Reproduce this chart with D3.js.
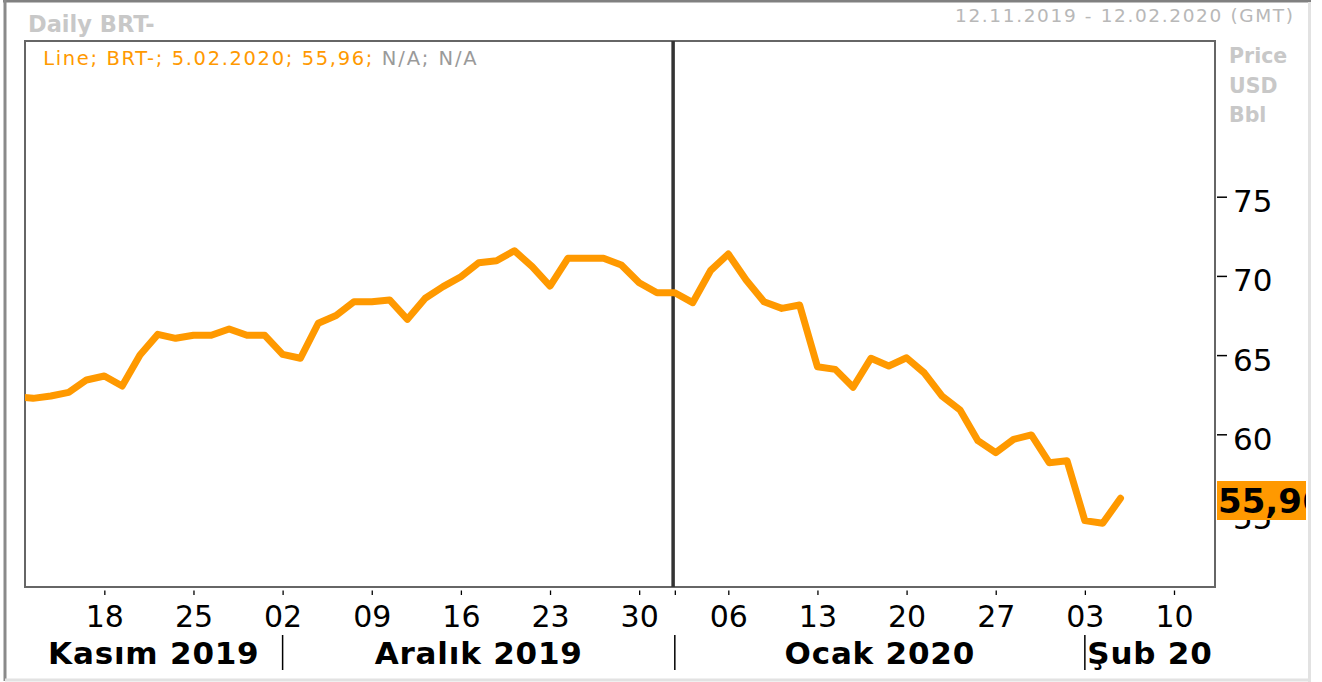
<!DOCTYPE html>
<html>
<head>
<meta charset="utf-8">
<script src="https://cdn.jsdelivr.net/npm/d3@7"></script>
<style>
  html, body { margin: 0; padding: 0; background: #fff; }
  svg { display: block; }
  text { font-family: "DejaVu Sans", Verdana, sans-serif; }
</style>
</head>
<body>
<svg id="chart" width="1322" height="682"></svg>
<script>
// ---------- DATA ----------
const dates = [
  "2019-11-11","2019-11-12","2019-11-13","2019-11-14","2019-11-15",
  "2019-11-18","2019-11-19","2019-11-20","2019-11-21","2019-11-22",
  "2019-11-25","2019-11-26","2019-11-27","2019-11-28","2019-11-29",
  "2019-12-02","2019-12-03","2019-12-04","2019-12-05","2019-12-06",
  "2019-12-09","2019-12-10","2019-12-11","2019-12-12","2019-12-13",
  "2019-12-16","2019-12-17","2019-12-18","2019-12-19","2019-12-20",
  "2019-12-23","2019-12-24","2019-12-25","2019-12-26","2019-12-27",
  "2019-12-30","2019-12-31","2020-01-01","2020-01-02","2020-01-03",
  "2020-01-06","2020-01-07","2020-01-08","2020-01-09","2020-01-10",
  "2020-01-13","2020-01-14","2020-01-15","2020-01-16","2020-01-17",
  "2020-01-20","2020-01-21","2020-01-22","2020-01-23","2020-01-24",
  "2020-01-27","2020-01-28","2020-01-29","2020-01-30","2020-01-31",
  "2020-02-03","2020-02-04","2020-02-05"
];
const prices = [
  62.40, 62.27, 62.42, 62.65, 63.43,
  63.68, 63.05, 65.01, 66.31, 66.06,
  66.25, 66.25, 66.65, 66.25, 66.25,
  65.05, 64.80, 67.01, 67.50, 68.37,
  68.37, 68.48, 67.26, 68.59, 69.32,
  69.95, 70.83, 70.96, 71.59, 70.58,
  69.36, 71.11, 71.11, 71.11, 70.69,
  69.57, 68.94, 68.94, 68.31, 70.33,
  71.38, 69.74, 68.37, 67.95, 68.16,
  64.27, 64.10, 62.97, 64.80, 64.31,
  64.83, 63.87, 62.40, 61.53, 59.60,
  58.84, 59.68, 59.96, 58.21, 58.33,
  54.55, 54.38, 55.96
];
const xTickDates  = ["2019-11-18","2019-11-25","2019-12-02","2019-12-09","2019-12-16","2019-12-23","2019-12-30","2020-01-06","2020-01-13","2020-01-20","2020-01-27","2020-02-03","2020-02-10"];
const xTickLabels = ["18","25","02","09","16","23","30","06","13","20","27","03","10"];
const monthStarts = ["2019-12-02","2020-01-01","2020-02-03"];
const monthLabels = ["Kasım 2019","Aralık 2019","Ocak 2020","Şub 20"];
const yTicks = [55, 60, 65, 70, 75];
const yDomain = [50.36, 84.83];
const title = "Daily BRT-";
const rangeText = "12.11.2019 - 12.02.2020 (GMT)";
const unitLines = ["Price", "USD", "Bbl"];
const lastLabel = "55,96";

// ---------- LAYOUT ----------
const W = 1322, H = 682;
const P = { left: 25, right: 1215, top: 41, bottom: 587 };
const orange = "#ff9900";

const svg = d3.select("#chart");
svg.append("rect").attr("width", W).attr("height", H).attr("fill", "#fff");

// trading-day calendar (weekdays) used as axis positions
const parse = d3.utcParse("%Y-%m-%d");
const fmt = d3.utcFormat("%Y-%m-%d");
const cal = d3.utcDays(parse("2019-11-11"), parse("2020-02-14"))
  .filter(d => d.getUTCDay() !== 0 && d.getUTCDay() !== 6).map(fmt);
const idx = s => cal.indexOf(s);

const x = d3.scaleLinear().domain([0.55, 67.3]).range([P.left, P.right]);
const y = d3.scaleLinear().domain(yDomain).range([P.bottom, P.top]);

// outer frame
svg.append("line").attr("x1", 3).attr("x2", 1311).attr("y1", 1.2).attr("y2", 1.2).attr("stroke", "#808080").attr("stroke-width", 2.5);
svg.append("line").attr("x1", 5).attr("x2", 5).attr("y1", 0).attr("y2", 681).attr("stroke", "#8a8a8a").attr("stroke-width", 3);
svg.append("line").attr("x1", 1309.5).attr("x2", 1309.5).attr("y1", 2).attr("y2", 682).attr("stroke", "#e2e2e2").attr("stroke-width", 3);
svg.append("line").attr("x1", 5).attr("x2", 1311).attr("y1", 680).attr("y2", 680).attr("stroke", "#e2e2e2").attr("stroke-width", 3);

// header texts
svg.append("text").attr("x", 28).attr("y", 31.5).attr("font-size", 22.5).attr("font-weight", "bold")
  .attr("fill", "#c8c8c8").text(title);
svg.append("text").attr("x", 955).attr("y", 22).attr("font-size", 18.5)
  .attr("textLength", 338).attr("lengthAdjust", "spacing")
  .attr("fill", "#b8b8b8").text(rangeText);
svg.selectAll("text.unit").data(unitLines).join("text").attr("class", "unit")
  .attr("x", 1229).attr("y", (d, i) => 63.3 + i * 29.3)
  .attr("font-size", 20.5).attr("font-weight", "bold").attr("fill", "#c8c8c8").text(d => d);

// clip for plot
svg.append("clipPath").attr("id", "plotClip").append("rect")
  .attr("x", P.left).attr("y", P.top).attr("width", P.right - P.left).attr("height", P.bottom - P.top);

// plot border
svg.append("rect").attr("x", P.left).attr("y", P.top).attr("width", P.right - P.left).attr("height", P.bottom - P.top)
  .attr("fill", "#fff").attr("stroke", "#666").attr("stroke-width", 2);

// legend line text
svg.append("text").attr("x", 43.3).attr("y", 65).attr("font-size", 19.5).attr("fill", orange)
  .attr("textLength", 329).attr("lengthAdjust", "spacing").text("Line; BRT-; 5.02.2020; 55,96;");
svg.append("text").attr("x", 381.7).attr("y", 65).attr("font-size", 19.5).attr("fill", "#9a9a9a")
  .attr("textLength", 95).attr("lengthAdjust", "spacing").text("N/A; N/A");

// year separator vertical line
svg.append("line").attr("x1", x(idx("2020-01-01")) - 1.7).attr("x2", x(idx("2020-01-01")) - 1.7)
  .attr("y1", P.top).attr("y2", P.bottom).attr("stroke", "#333").attr("stroke-width", 3.5);

// price line
const series = dates.map((d, i) => ({ i: idx(d), v: prices[i] }));
svg.append("path").datum(series).attr("clip-path", "url(#plotClip)")
  .attr("fill", "none").attr("stroke", orange).attr("stroke-width", 7)
  .attr("stroke-linejoin", "round").attr("stroke-linecap", "round")
  .attr("d", d3.line().x(d => x(d.i)).y(d => y(d.v)));

// y axis (right)
const yAxis = d3.axisRight(y).tickValues(yTicks).tickSize(10).tickPadding(6).tickFormat(d3.format("d"));
const gy = svg.append("g").attr("transform", `translate(${P.right + 2},0)`).call(yAxis);
gy.select(".domain").remove();
gy.selectAll(".tick line").attr("stroke", "#000").attr("stroke-width", 1.5);
gy.selectAll(".tick text").attr("font-family", "DejaVu Sans").attr("font-size", 31).attr("fill", "#000")
  .attr("dy", null).attr("y", 15).attr("x", 16);

// x axis
const xTickIdx = xTickDates.map(idx).concat([idx("2020-01-01")]);
const xAxis = d3.axisBottom(x).tickValues(xTickIdx).tickSize(4.5).tickPadding(0)
  .tickFormat(v => { const k = xTickDates.map(idx).indexOf(v); return k >= 0 ? xTickLabels[k] : ""; });
const gx = svg.append("g").attr("transform", `translate(0,${P.bottom + 3.5})`).call(xAxis);
gx.select(".domain").remove();
gx.selectAll(".tick line").attr("stroke", "#000").attr("stroke-width", 1.3);
gx.selectAll(".tick text").attr("font-family", "DejaVu Sans").attr("font-size", 30).attr("fill", "#000")
  .attr("dy", null).attr("y", 36);

// month separators and labels
const sepX = monthStarts.map(s => x(idx(s)));
svg.selectAll("line.msep").data(sepX).join("line").attr("class", "msep")
  .attr("x1", d => d).attr("x2", d => d).attr("y1", 635).attr("y2", 670)
  .attr("stroke", "#000").attr("stroke-width", 1.5);
const bounds = [P.left].concat(sepX).concat([P.right]);
svg.selectAll("text.month").data(monthLabels).join("text").attr("class", "month")
  .attr("x", (d, i) => (bounds[i] + bounds[i + 1]) / 2).attr("y", 664)
  .attr("text-anchor", "middle").attr("font-size", 31).attr("font-weight", "bold").attr("fill", "#000")
  .attr("letter-spacing", 0.8)
  .text(d => d);

// last value tag
svg.append("clipPath").attr("id", "tagClip").append("rect")
  .attr("x", P.right + 1).attr("y", 0).attr("width", 1306 - P.right - 1).attr("height", H);
const lastV = prices[prices.length - 1];
const tag = svg.append("g").attr("clip-path", "url(#tagClip)");
tag.append("rect").attr("x", 1217).attr("y", y(lastV) - 17.3).attr("width", 95).attr("height", 39).attr("fill", orange);
tag.append("text").attr("x", 1218).attr("y", y(lastV) + 15).attr("font-size", 34).attr("font-weight", "bold")
  .attr("fill", "#000").text(lastLabel);
</script>
</body>
</html>
